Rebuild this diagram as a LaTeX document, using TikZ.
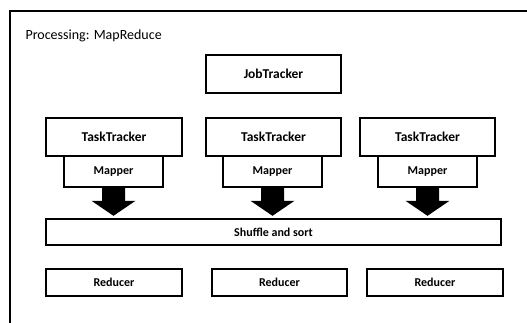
\documentclass[tikz,border=0pt]{standalone}
\usepackage{fontspec}
\setmainfont{Carlito}
\usetikzlibrary{calc}
\begin{document}
\begin{tikzpicture}[x=1pt,y=1pt,
  box/.style={draw=black,line width=1.6pt,fill=white,inner sep=0pt,font=\bfseries},
  bigbox/.style={box,minimum width=135pt,minimum height=38pt,font=\bfseries\fontsize{13.5}{15}\selectfont},
  smallbox/.style={box,minimum height=27pt,font=\bfseries\fontsize{12}{14}\selectfont},
  flow/.style={fill=black}]
\useasboundingbox (0,0) rectangle (527,-323);
% outer frame, open on the right and at the bottom
\draw[line width=2pt] (10,-323) -- (10,-11) -- (527,-11);
\node[anchor=west,font=\fontsize{14}{16}\selectfont] (title) at (22,-36) {Processing: MapReduce};
% job and task trackers
\node[bigbox] (jt) at (273.5,-74) {JobTracker};
\node[bigbox,minimum width=136pt] (tt1) at (114,-137) {TaskTracker};
\node[bigbox] (tt2) at (273.5,-137) {TaskTracker};
\node[bigbox] (tt3) at (427.5,-137) {TaskTracker};
% mappers hang under the task trackers
\node[smallbox,minimum width=99pt,minimum height=31pt] (m1) at (113.5,-171.5) {Mapper};
\node[smallbox,minimum width=99pt,minimum height=31pt] (m2) at (272.5,-171.5) {Mapper};
\node[smallbox,minimum width=99pt,minimum height=31pt] (m3) at (427.5,-171.5) {Mapper};
% shuffle stage
\node[smallbox,minimum width=455pt,minimum height=26pt] (sh) at (273.5,-232) {Shuffle and sort};
% reducers
\node[smallbox,minimum width=136pt] (r1) at (114,-282.5) {Reducer};
\node[smallbox,minimum width=135pt] (r2) at (279.5,-282.5) {Reducer};
\node[smallbox,minimum width=136pt] (r3) at (435,-282.5) {Reducer};
% block arrows from each mapper to the shuffle stage
\foreach \m in {m1,m2,m3}{
  \fill[flow] ($(\m.south)+(-11.5,0)$) -- ($(\m.south)+(11.5,0)$)
    -- ($(\m.south)+(11.5,-13)$) -- ($(\m.south)+(22,-13)$)
    -- ($(\m.south)+(0,-28)$) -- ($(\m.south)+(-22,-13)$)
    -- ($(\m.south)+(-11.5,-13)$) -- cycle;
}
\end{tikzpicture}
\end{document}
